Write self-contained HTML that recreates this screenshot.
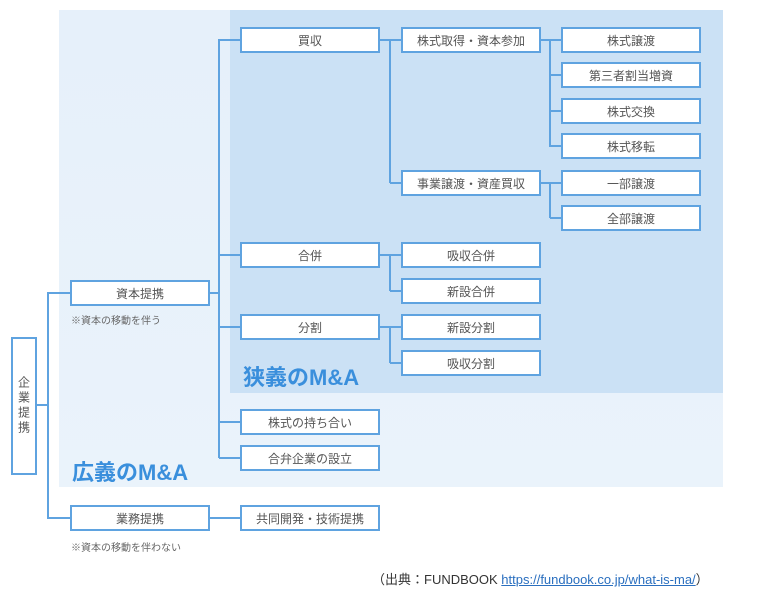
<!DOCTYPE html>
<html><head><meta charset="utf-8"><style>
body{margin:0;width:759px;height:598px;background:#fff;position:relative;overflow:hidden;font-family:"Liberation Sans","Noto Sans CJK JP",sans-serif;}
.a{position:absolute}
.b{position:absolute;box-sizing:border-box;border:2px solid #5fa3e0;background:#fff;color:#555;font-size:12px;display:flex;align-items:center;justify-content:center;width:140px;height:26px}
.h{position:absolute;height:2px;background:#5fa3e0}
.v{position:absolute;width:2px;background:#5fa3e0}
.t{position:absolute;font-size:22px;font-weight:bold;color:#3a8fdc}
.n{position:absolute;font-size:10px;color:#666}
</style></head><body>
<div class="a" style="left:59px;top:10px;width:664px;height:477px;background:linear-gradient(#e6f0fa,#eaf3fb)"></div>
<div class="a" style="left:230px;top:10px;width:493px;height:383px;background:#cbe1f5"></div>

<div class="v" style="left:47px;top:292px;height:227px"></div>
<div class="h" style="left:36px;top:404px;width:12px"></div>
<div class="h" style="left:48px;top:292px;width:22px"></div>
<div class="h" style="left:48px;top:517px;width:22px"></div>

<div class="v" style="left:218px;top:39px;height:419px"></div>
<div class="h" style="left:209px;top:292px;width:10px"></div>
<div class="h" style="left:219px;top:39px;width:21px"></div>
<div class="h" style="left:219px;top:254px;width:21px"></div>
<div class="h" style="left:219px;top:326px;width:21px"></div>
<div class="h" style="left:219px;top:421px;width:21px"></div>
<div class="h" style="left:219px;top:457px;width:21px"></div>
<div class="h" style="left:209px;top:517px;width:31px"></div>

<div class="v" style="left:389px;top:39px;height:144px"></div>
<div class="h" style="left:379px;top:39px;width:22px"></div>
<div class="h" style="left:390px;top:182px;width:11px"></div>
<div class="v" style="left:389px;top:254px;height:37px"></div>
<div class="h" style="left:379px;top:254px;width:22px"></div>
<div class="h" style="left:390px;top:290px;width:11px"></div>
<div class="v" style="left:389px;top:326px;height:37px"></div>
<div class="h" style="left:379px;top:326px;width:22px"></div>
<div class="h" style="left:390px;top:362px;width:11px"></div>

<div class="v" style="left:549px;top:39px;height:108px"></div>
<div class="h" style="left:540px;top:39px;width:21px"></div>
<div class="h" style="left:550px;top:74px;width:11px"></div>
<div class="h" style="left:550px;top:110px;width:11px"></div>
<div class="h" style="left:550px;top:145px;width:11px"></div>
<div class="v" style="left:549px;top:182px;height:36px"></div>
<div class="h" style="left:540px;top:182px;width:21px"></div>
<div class="h" style="left:550px;top:217px;width:11px"></div>

<div class="b" style="left:11px;top:337px;width:26px;height:138px;writing-mode:vertical-rl;letter-spacing:3px">企業提携</div>
<div class="b" style="left:70px;top:280px">資本提携</div>
<div class="n" style="left:71px;top:312px">※資本の移動を伴う</div>
<div class="b" style="left:70px;top:505px">業務提携</div>
<div class="n" style="left:71px;top:539px">※資本の移動を伴わない</div>

<div class="b" style="left:240px;top:27px">買収</div>
<div class="b" style="left:240px;top:242px">合併</div>
<div class="b" style="left:240px;top:314px">分割</div>
<div class="b" style="left:240px;top:409px">株式の持ち合い</div>
<div class="b" style="left:240px;top:445px">合弁企業の設立</div>
<div class="b" style="left:240px;top:505px">共同開発・技術提携</div>

<div class="b" style="left:401px;top:27px">株式取得・資本参加</div>
<div class="b" style="left:401px;top:170px">事業譲渡・資産買収</div>
<div class="b" style="left:401px;top:242px">吸収合併</div>
<div class="b" style="left:401px;top:278px">新設合併</div>
<div class="b" style="left:401px;top:314px">新設分割</div>
<div class="b" style="left:401px;top:350px">吸収分割</div>

<div class="b" style="left:561px;top:27px">株式譲渡</div>
<div class="b" style="left:561px;top:62px">第三者割当増資</div>
<div class="b" style="left:561px;top:98px">株式交換</div>
<div class="b" style="left:561px;top:133px">株式移転</div>
<div class="b" style="left:561px;top:170px">一部譲渡</div>
<div class="b" style="left:561px;top:205px">全部譲渡</div>

<div class="t" style="left:243px;top:360px">狭義のM&amp;A</div>
<div class="t" style="left:72px;top:455px">広義のM&amp;A</div>

<div class="a" style="left:372px;top:569px;font-size:13px;color:#333">（出典：FUNDBOOK <span style="color:#2a6fbf;text-decoration:underline">https://fundbook.co.jp/what-is-ma/</span>）</div>
</body></html>
